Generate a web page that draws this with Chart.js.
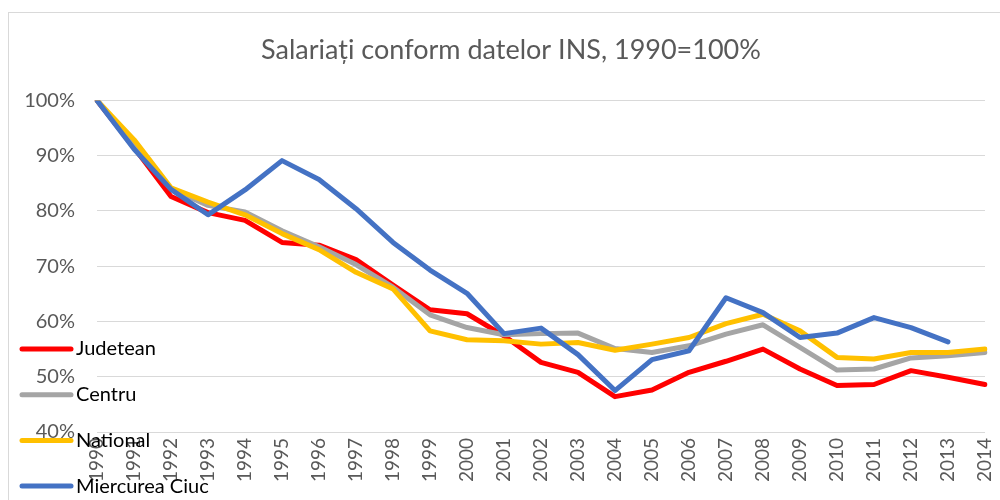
<!DOCTYPE html>
<html>
<head>
<meta charset="utf-8">
<script src="https://cdn.jsdelivr.net/npm/chart.js@4"></script>
<style>
  html, body { margin: 0; padding: 0; background: #fff; }
  #wrap { width: 1000px; height: 500px; position: relative; }
</style>
</head>
<body>
<div id="wrap"><canvas id="salariatiChart"></canvas></div>
<script>
const years = ['1990', '1991', '1992', '1993', '1994', '1995', '1996', '1997', '1998', '1999', '2000', '2001',
    '2002', '2003', '2004', '2005', '2006', '2007', '2008', '2009', '2010', '2011', '2012', '2013', '2014'];
const judetean = [100, 91.5, 82.6, 79.7, 78.3, 74.3, 73.8, 71.2, 66.6, 62.1, 61.4, 57.4,
    52.6, 50.8, 46.4, 47.6, 50.8, 52.8, 55.0, 51.4, 48.4, 48.6, 51.1, 49.9, 48.6];
const centru = [100, 92.0, 84.0, 81.0, 79.8, 76.4, 73.5, 70.3, 66.2, 61.2, 58.9, 57.6,
    57.8, 57.9, 55.1, 54.4, 55.6, 57.7, 59.4, 55.3, 51.2, 51.4, 53.4, 53.8, 54.4];
const national = [100, 92.9, 84.2, 81.6, 79.3, 75.9, 73.0, 68.9, 65.9, 58.3, 56.7, 56.5,
    55.9, 56.2, 54.8, 55.9, 57.1, 59.6, 61.3, 58.3, 53.5, 53.2, 54.4, 54.4, 55.0];
const miercureaCiuc = [100, 91.2, 83.9, 79.3, 83.8, 89.1, 85.7, 80.4, 74.3, 69.3, 65.1, 57.8,
    58.8, 54.0, 47.5, 53.1, 54.7, 64.3, 61.6, 57.1, 57.9, 60.7, 58.9, 56.3, null];
const yTicks = [40, 50, 60, 70, 80, 90, 100];

const FONT = 'Lato, "Open Sans", sans-serif';

// legend drawn over the plot, like the original
const overlayLegend = {
    id: 'overlayLegend',
    beforeDraw(chart) {
        const ctx = chart.ctx;
        ctx.save();
        ctx.strokeStyle = '#d9d9d9';
        ctx.lineWidth = 1;
        ctx.strokeRect(8.5, 12.5, 1100, 600);
        ctx.restore();
    },
    afterDraw(chart) {
        const ctx = chart.ctx;
        ctx.save();
        ctx.font = '20px ' + FONT;
        ctx.textBaseline = 'middle';
        chart.data.datasets.forEach((ds, i) => {
            const y = 349 + i * 45.7;
            ctx.strokeStyle = ds.borderColor;
            ctx.lineWidth = 5;
            ctx.lineCap = 'round';
            ctx.beginPath();
            ctx.moveTo(22, y);
            ctx.lineTo(71, y);
            ctx.stroke();
            ctx.fillStyle = '#000';
            ctx.fillText(ds.label, 76, y);
        });
        ctx.restore();
    }
};

const line = (label, data, color, order) => ({
    label, data, borderColor: color, backgroundColor: color, order,
    borderWidth: 5, pointRadius: 0, tension: 0,
    borderJoinStyle: 'round', borderCapStyle: 'round', spanGaps: false
});

new Chart(document.getElementById('salariatiChart').getContext('2d'), {
    type: 'line',
    data: {
        labels: years,
        datasets: [
            line('Judetean', judetean, '#ff0000', 4),
            line('Centru', centru, '#a5a5a5', 3),
            line('National', national, '#ffc000', 2),
            line('Miercurea Ciuc', miercureaCiuc, '#4472c4', 1)
        ]
    },
    options: {
        responsive: true, maintainAspectRatio: false, animation: false,
        layout: { padding: { left: 22, right: 0, top: 0, bottom: 0 } },
        plugins: {
            legend: { display: false },
            tooltip: { enabled: false },
            title: {
                display: true, text: 'Salariați conform datelor INS, 1990=100%',
                color: '#595959', font: { family: FONT, size: 27, weight: 'normal' },
                padding: { top: 34, bottom: 34 }
            }
        },
        scales: {
            x: {
                offset: false,
                grid: { display: false, drawTicks: false },
                border: { display: false },
                ticks: { color: '#595959', font: { family: FONT, size: 19 }, minRotation: 90, maxRotation: 90, padding: 6, autoSkip: false },
                afterFit: s => { s.height = 68; s.paddingLeft = 0; s.paddingRight = 15; }
            },
            y: {
                min: 40, max: 100,
                afterBuildTicks: s => { s.ticks = yTicks.map(v => ({ value: v })); },
                grid: { color: '#d9d9d9', lineWidth: 1, drawTicks: false },
                border: { display: false },
                ticks: { color: '#595959', font: { family: FONT, size: 20 }, padding: 22, callback: v => v + '%' },
                afterFit: s => { s.width = 75; }
            }
        }
    },
    plugins: [overlayLegend]
});
</script>
</body>
</html>
